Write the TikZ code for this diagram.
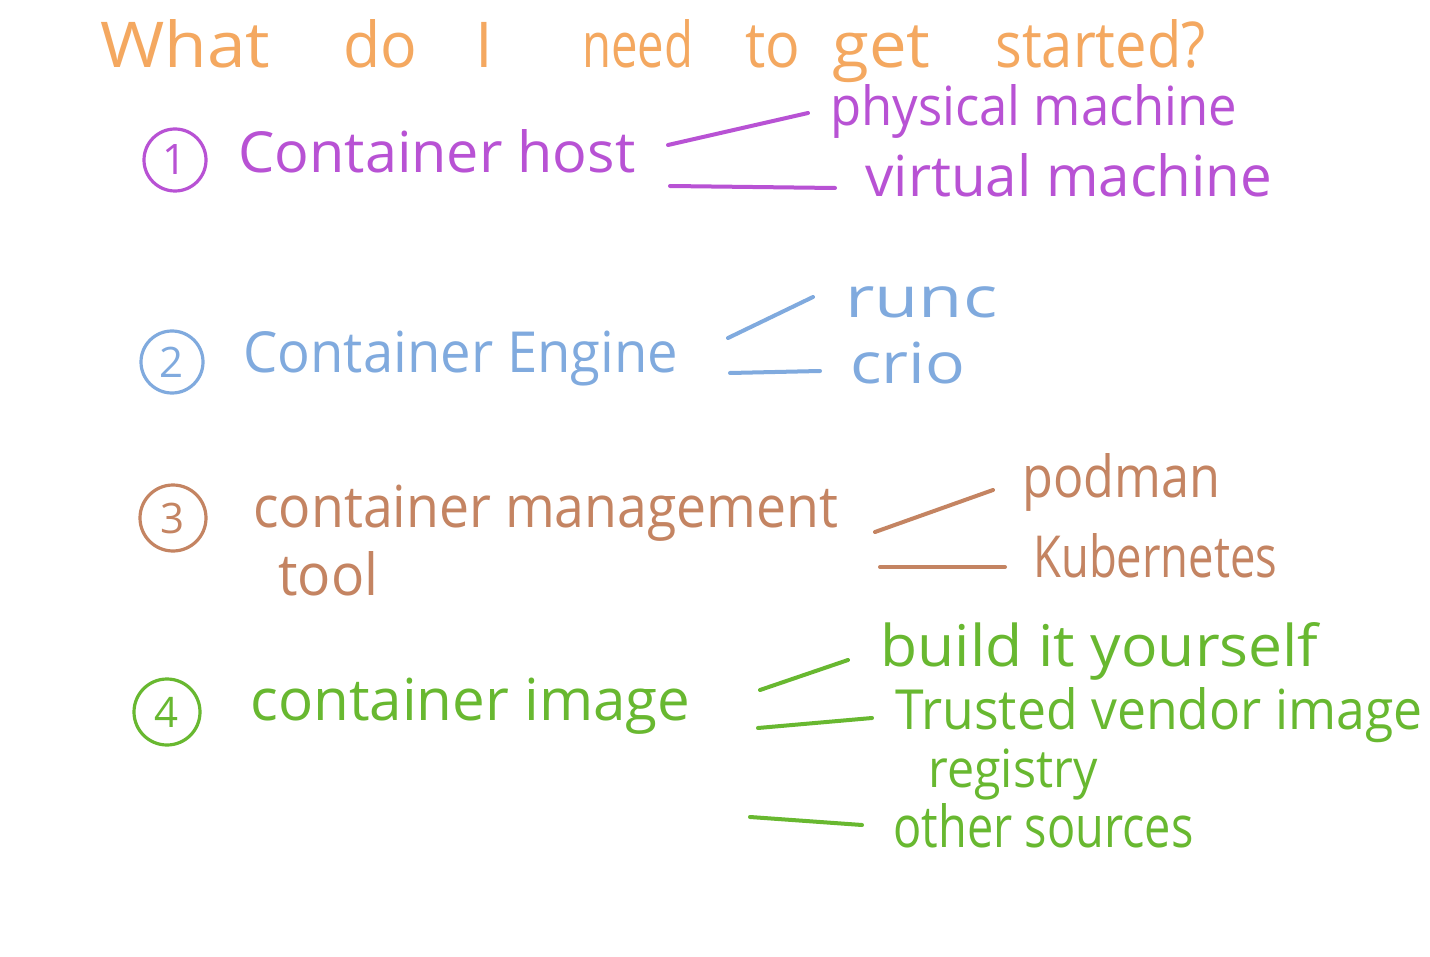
\documentclass[tikz,border=0pt]{standalone}
\usepackage{fontspec}
\setmainfont{Open Sans}
\usepackage{graphicx}
\definecolor{ttl}{RGB}{244,168,96}
\definecolor{pur}{RGB}{184,82,212}
\definecolor{blu}{RGB}{128,170,222}
\definecolor{brn}{RGB}{196,132,98}
\definecolor{grn}{RGB}{104,184,48}
\newcommand{\hw}[3]{\resizebox{#1pt}{#2pt}{\vphantom{Ah}#3}}
\newcommand{\tw}[3]{\makebox[#1pt][l]{\resizebox{#2pt}{24pt}{\vphantom{Ah}#3}}}
\begin{document}
\begin{tikzpicture}[x=0.5pt,y=-0.5pt,
  lbl/.style={inner sep=0pt, anchor=base west},
  num/.style={circle, draw, line width=1.6pt, inner sep=0pt, minimum size=31pt, font=\fontsize{21}{21}\selectfont},
  link/.style={line width=2pt, line cap=round}]
\fill[white] (0,0) rectangle (1430,957);
\useasboundingbox (0,0) rectangle (1430,957);

% title
\node[lbl, ttl] (title) at (100,68) {\tw{121.5}{85}{What}\tw{66}{37}{do}\makebox[53.5pt][l]{\resizebox{!}{24pt}{\vphantom{Ah}I}}\tw{81.5}{55.5}{need}\tw{43.5}{27.5}{to}\tw{81.5}{49}{get}\resizebox{105pt}{24pt}{\vphantom{Ah}started?}};

% 1 container host
\node[num, pur] (n1) at (175,160) {1};
\node[lbl, pur] (host) at (238,173) {\hw{198.5}{21.5}{Container host}};
\node[lbl, pur] (phys) at (830,126) {\hw{203.5}{20.5}{physical machine}};
\node[lbl, pur] (virt) at (865,197) {\hw{203.5}{21.5}{virtual machine}};
\coordinate (h1) at (668,145); \coordinate (p1) at (808,113);
\coordinate (h2) at (670,186); \coordinate (v1) at (835,188);
\draw[link, pur] (h1) -- (p1);
\draw[link, pur] (h2) -- (v1);

% 2 container engine
\node[num, blu] (n2) at (172,362) {2};
\node[lbl, blu] (engine) at (243,372) {\hw{217.5}{21.5}{Container Engine}};
\node[lbl, blu] (runc) at (845,318) {\hw{76}{21.5}{runc}};
\node[lbl, blu] (crio) at (850,383) {\hw{57.5}{21.5}{crio}};
\coordinate (e1) at (728,338); \coordinate (r1) at (813,297);
\coordinate (e2) at (730,373); \coordinate (c1) at (820,371);
\draw[link, blu] (e1) -- (r1);
\draw[link, blu] (e2) -- (c1);

% 3 container management tool
\node[num, brn, minimum size=33pt] (n3) at (173,518) {3};
\node[lbl, brn] (mgmt) at (253,527) {\hw{292.5}{22}{container management}};
\node[lbl, brn] (tool) at (278,595) {\hw{50}{22}{tool}};
\node[lbl, brn] (podman) at (1022,497) {\hw{99}{22}{podman}};
\node[lbl, brn] (kube) at (1033,577) {\hw{122}{22}{Kubernetes}};
\coordinate (m1) at (875,532); \coordinate (pd1) at (993,490);
\coordinate (m2) at (880,567); \coordinate (k1) at (1005,567);
\draw[link, brn] (m1) -- (pd1);
\draw[link, brn] (m2) -- (k1);

% 4 container image
\node[num, grn, minimum size=33pt] (n4) at (167,712) {4};
\node[lbl, grn] (image) at (250,720) {\hw{220}{22}{container image}};
\node[lbl, grn] (build) at (880,666) {\hw{219}{22}{build it yourself}};
\node[lbl, grn] (trusted) at (895,729) {\hw{263.5}{21}{Trusted vendor image}};
\node[lbl, grn] (registry) at (928,787) {\hw{84.5}{20}{registry}};
\node[lbl, grn] (other) at (893,847) {\hw{150}{22}{other sources}};
\coordinate (i1) at (760,690); \coordinate (b1) at (848,660);
\coordinate (i2) at (758,728); \coordinate (t1) at (872,718);
\coordinate (i3) at (750,817); \coordinate (o1) at (862,825);
\draw[link, grn] (i1) -- (b1);
\draw[link, grn] (i2) -- (t1);
\draw[link, grn] (i3) -- (o1);
\end{tikzpicture}
\end{document}
